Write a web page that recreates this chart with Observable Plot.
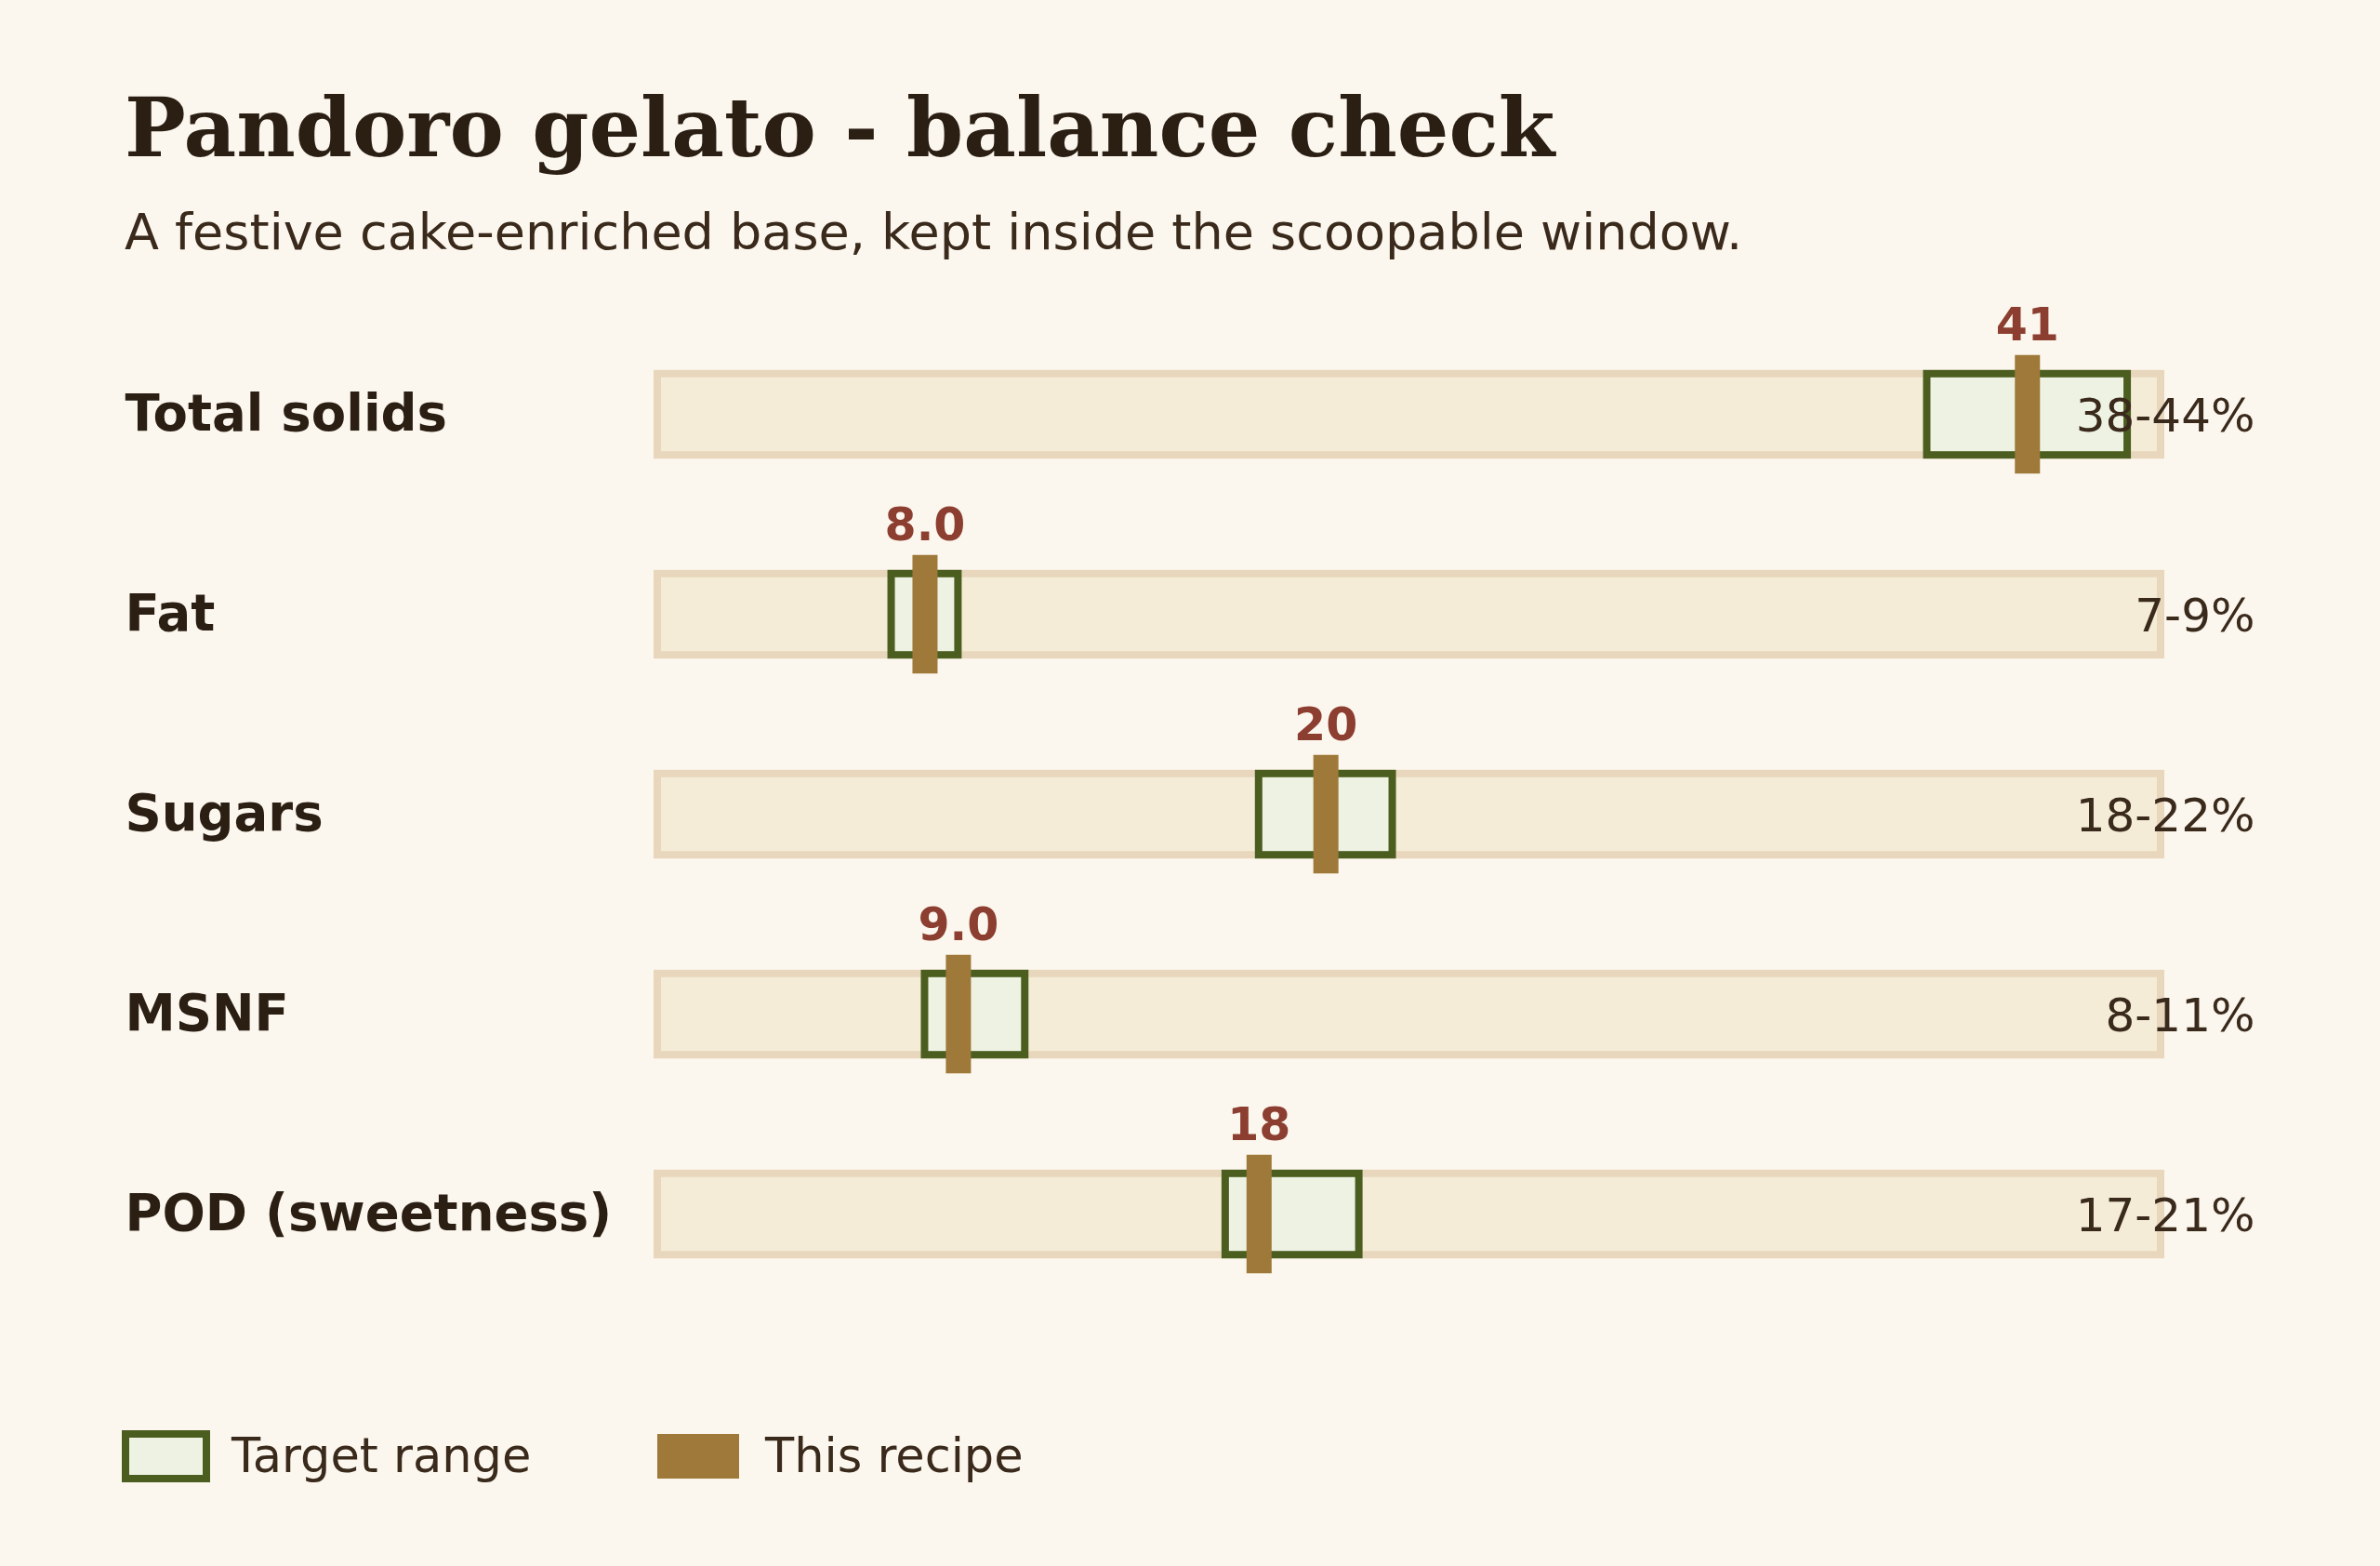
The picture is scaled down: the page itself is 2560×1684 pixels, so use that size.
<!DOCTYPE html>
<html>
<head>
<meta charset="utf-8">
<script src="https://cdn.jsdelivr.net/npm/d3@7"></script>
<script src="https://cdn.jsdelivr.net/npm/@observablehq/plot@0.6"></script>
<style>
  html, body { margin: 0; padding: 0; background: #fcf7ee; }
  #page { width: 2560px; height: 1684px; position: relative; background: #fcf7ee; overflow: hidden; }
  svg { display: block; }
</style>
</head>
<body>
<div id="page">
  <svg id="header" width="2560" height="300">
    <text x="134" y="168" font-family="DejaVu Serif" font-weight="bold" font-size="87.5" fill="#2b1f14">Pandoro gelato - balance check</text>
    <text x="134" y="268" font-family="DejaVu Sans" font-size="54" fill="#3a2a1c">A festive cake-enriched base, kept inside the scoopable window.</text>
  </svg>
  <div id="chart"></div>
  <svg id="legend" width="2560" height="204">
    <rect x="135" y="62" width="87" height="48" fill="#eef2e3" stroke="#4b5e20" stroke-width="8"></rect>
    <text x="249" y="103" font-family="DejaVu Sans" font-size="51" fill="#3a2a1c">Target range</text>
    <rect x="707" y="62" width="88" height="48" fill="#9e7939"></rect>
    <text x="823" y="103" font-family="DejaVu Sans" font-size="51" fill="#3a2a1c">This recipe</text>
  </svg>
</div>
<script>
// ---- data ----
const nutrients   = ["Total solids", "Fat", "Sugars", "MSNF", "POD (sweetness)"];
const targetLow   = [38, 7, 18, 8, 17];
const targetHigh  = [44, 9, 22, 11, 21];
const recipeValue = [41, 8.0, 20, 9.0, 18];
const scaleMax    = [45];

const rows = nutrients.map((name, i) => ({
  name,
  lo: targetLow[i],
  hi: targetHigh[i],
  value: recipeValue[i],
  start: 0,
  end: scaleMax[0],
  valueLabel: recipeValue[i] < 10 ? recipeValue[i].toFixed(1) : recipeValue[i].toFixed(0),
  rangeLabel: `${targetLow[i]}-${targetHigh[i]}%`
}));

const step = 215.6;
const trackInset = (step - 88) / 2;
const markerInset = (step - 128) / 2;

const chart = Plot.plot({
  width: 2560,
  height: 1180,
  marginLeft: 707,
  marginRight: 236,
  marginTop: 0,
  marginBottom: 0,
  style: { background: "transparent", fontFamily: "DejaVu Sans" },
  x: { domain: [0, scaleMax[0]], range: [707, 2324], axis: null },
  y: { domain: nutrients, range: [36.5, 36.5 + 5 * step], padding: 0, axis: null },
  marks: [
    Plot.barX(rows, {
      y: "name", x1: "start", x2: "end",
      fill: "#f4ecd6", stroke: "#e8d7bd", strokeWidth: 8,
      insetTop: trackInset, insetBottom: trackInset
    }),
    Plot.barX(rows, {
      y: "name", x1: "lo", x2: "hi",
      fill: "#eef2e3", stroke: "#4b5e20", strokeWidth: 8,
      insetTop: trackInset, insetBottom: trackInset
    }),
    Plot.tickX(rows, {
      y: "name", x: "value",
      stroke: "#9e7939", strokeWidth: 27,
      insetTop: markerInset, insetBottom: markerInset
    }),
    Plot.text(rows, {
      y: "name", x: "value", text: "valueLabel",
      lineAnchor: "bottom", dy: -80,
      fontSize: 49, fontWeight: "bold", fill: "#8c3e30"
    }),
    Plot.text(rows, {
      y: "name", text: "name", frameAnchor: "left", dx: -573,
      textAnchor: "start", lineAnchor: "middle",
      fontSize: 54.5, fontWeight: "bold", fill: "#2b1f14"
    }),
    Plot.text(rows, {
      y: "name", text: "rangeLabel", frameAnchor: "right", dx: 101,
      textAnchor: "end", lineAnchor: "middle", dy: 2,
      fontSize: 50, fill: "#3a2a1c"
    })
  ]
});
document.getElementById("chart").appendChild(chart);
</script>
</body>
</html>
